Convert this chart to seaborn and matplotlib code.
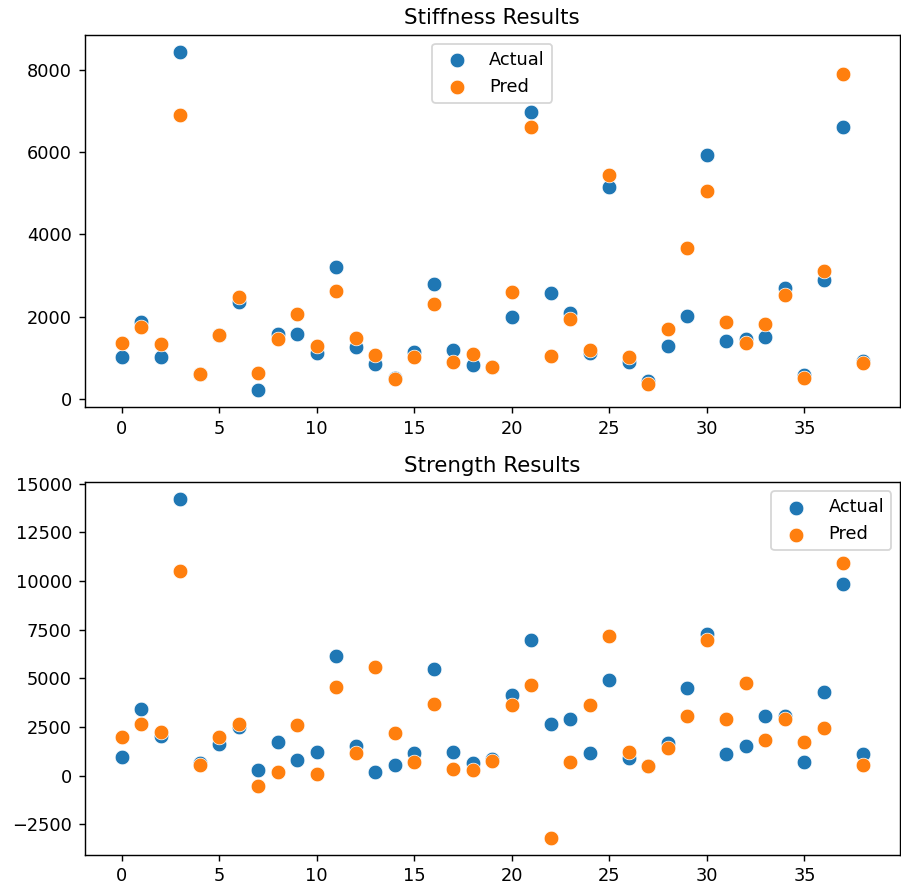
import numpy as np
import matplotlib
matplotlib.use("Agg")
import matplotlib.pyplot as plt
import seaborn as sns

# sample index 0..38
idx = list(range(39))

# stiffness: actual vs predicted
stiff_actual = [1018, 1859, 1018, 8436, 606, 1544, 2344, 211, 1584, 1568,
                1115, 3217, 1270, 848, 518, 1140, 2788, 1188, 824, 770,
                1988, 6958, 2570, 2085, 1108, 5148, 890, 446, 1277, 2022,
                5924, 1406, 1454, 1503, 2707, 582, 2884, 6603, 921]
stiff_pred = [1350, 1738, 1326, 6894, 606, 1544, 2473, 630, 1447, 2053,
              1285, 2627, 1471, 1059, 477, 1027, 2312, 897, 1091, 790,
              2603, 6603, 1051, 1932, 1188, 5439, 1018, 373, 1697, 3670,
              5051, 1859, 1350, 1827, 2537, 502, 3119, 7895, 865]

# strength: actual vs predicted
str_actual = [949, 3411, 2042, 14200, 641, 1616, 2503, 267, 1703, 811,
              1221, 6130, 1498, 195, 554, 1154, 5463, 1221, 641, 831,
              4165, 6951, 2642, 2934, 1154, 4915, 882, 503, 1652, 4504,
              7259, 1088, 1498, 3068, 3068, 677, 4299, 9824, 1088]
str_pred = [1975, 2642, 2267, 10506, 554, 1975, 2642, -554, 195, 2591,
            62, 4556, 1154, 5602, 2180, 677, 3683, 333, 267, 759,
            3617, 4643, -3206, 677, 3617, 7172, 1221, 472, 1426, 3068,
            6951, 2934, 4781, 1837, 2934, 1703, 2452, 10917, 539]

fig, (ax1, ax2) = plt.subplots(2, 1, figsize=(901/128, 888/128), dpi=128)
plt.subplots_adjust(left=0.0938, right=0.9989, top=0.961, bottom=0.0372, hspace=0.2013)

pt = dict(s=68, linewidth=0.4)
sns.scatterplot(x=idx, y=stiff_actual, ax=ax1, label='Actual', color='#1f77b4', **pt)
sns.scatterplot(x=idx, y=stiff_pred, ax=ax1, label='Pred', color='#ff7f0e', **pt)
ax1.set_title('Stiffness Results')
ax1.legend(loc='upper center')

sns.scatterplot(x=idx, y=str_actual, ax=ax2, label='Actual', color='#1f77b4', **pt)
sns.scatterplot(x=idx, y=str_pred, ax=ax2, label='Pred', color='#ff7f0e', **pt)
ax2.set_title('Strength Results')
ax2.legend(loc='upper right')

fig.savefig('out.png', dpi=128)
